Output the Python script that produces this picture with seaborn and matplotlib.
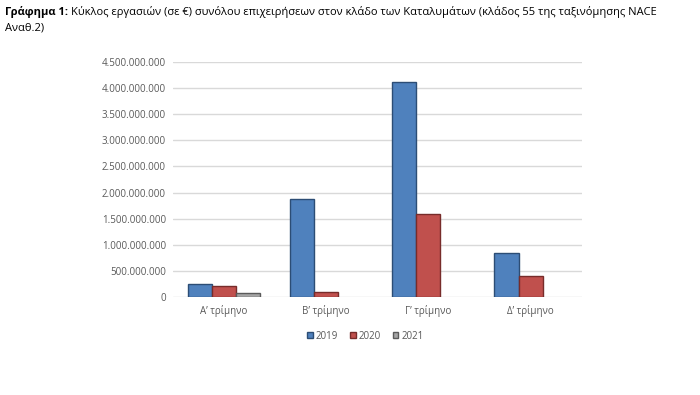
import pandas as pd
import numpy as np
import matplotlib
matplotlib.use("Agg")
import matplotlib.pyplot as plt
from matplotlib.ticker import FuncFormatter
import seaborn as sns

sns.set_theme(style="white")
plt.rcParams['font.family'] = ['Open Sans', 'DejaVu Sans']

quarters = ["Α’ τρίμηνο", "Β’ τρίμηνο", "Γ’ τρίμηνο", "Δ’ τρίμηνο"]
years = ["2019", "2020", "2021"]
v2019 = [257e6, 1870e6, 4120e6, 837e6]
v2020 = [218e6, 95e6, 1590e6, 402e6]
v2021 = [80e6, np.nan, np.nan, np.nan]

colors = ["#4F81BD", "#C0504D", "#A5A5A5"]
edges = ["#2C4D75", "#772C2A", "#5A5A5A"]

rows = []
for y, vals in zip(years, [v2019, v2020, v2021]):
    for q, v in zip(quarters, vals):
        if not np.isnan(v):
            rows.append({"quarter": q, "year": y, "value": v})
df = pd.DataFrame(rows)

fig = plt.figure(figsize=(7, 3.95), dpi=100)
ax = fig.add_axes([0.247, 0.248, 0.584, 0.595])

sns.barplot(data=df, x="quarter", y="value", hue="year", order=quarters,
            hue_order=years, palette=colors, saturation=1, width=0.71, gap=0,
            ax=ax, legend=False)

for cont, ec in zip(ax.containers, edges):
    for bar in cont:
        bar.set_edgecolor(ec)
        bar.set_linewidth(1.0)

ax.set_ylim(0, 4.5e9)
ax.set_yticks(np.arange(0, 4.5e9 + 1, 5e8))
ax.yaxis.set_major_formatter(FuncFormatter(lambda v, p: f"{int(v):,}".replace(",", ".")))
ax.grid(axis="y", color="#D9D9D9", linewidth=1)
ax.set_axisbelow(True)
for s in ax.spines.values():
    s.set_visible(False)
ax.set_xlabel("")
ax.set_ylabel("")
ax.tick_params(axis="both", length=0, labelsize=7, colors="#595959", pad=6)
ax.tick_params(axis="y", pad=5)

handles = [plt.Rectangle((0, 0), 1, 1, facecolor=c, edgecolor=e) for c, e in zip(colors, edges)]
fig.legend(handles, years, loc="center", bbox_to_anchor=(0.522, 0.149), ncol=3,
           frameon=False, fontsize=7, handlelength=0.6, handleheight=0.6,
           handletextpad=0.3, columnspacing=1.2, labelcolor="#595959")

# title: bold label followed by regular text
t1 = fig.text(0.007, 0.985, "Γράφημα 1:", fontsize=8, fontweight="bold", va="top", color="black")
fig.canvas.draw()
bb = t1.get_window_extent().transformed(fig.transFigure.inverted())
fig.text(bb.x1 + 0.005, 0.985,
         "Κύκλος εργασιών (σε €) συνόλου επιχειρήσεων στον κλάδο των Καταλυμάτων (κλάδος 55 της ταξινόμησης NACE",
         fontsize=8, va="top", color="black")
fig.text(0.007, 0.943, "Αναθ.2)", fontsize=8, va="top", color="black")

fig.savefig("out.png", dpi=100)
